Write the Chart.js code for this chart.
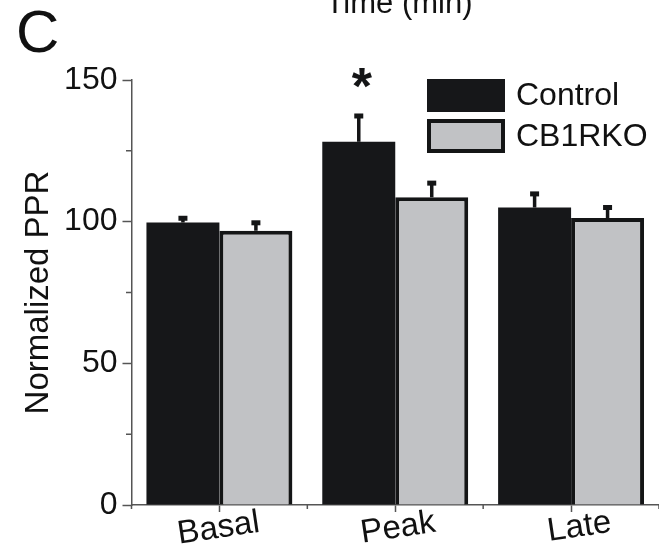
<!DOCTYPE html>
<html>
<head>
<meta charset="utf-8">
<script src="https://cdn.jsdelivr.net/npm/chart.js@4.4.1/dist/chart.umd.min.js"></script>
<style>
  html, body { margin: 0; padding: 0; background: #ffffff; overflow: hidden; }
  #wrap { width: 659px; height: 554px; position: relative; }
</style>
</head>
<body>
<div id="wrap"><canvas id="ppr"></canvas></div>
<script>
// Normalized paired-pulse ratio per phase, mean and SEM
const categories = ['Basal', 'Peak', 'Late'];
const controlMean = [99.7, 128.2, 105.0];
const controlSem = [1.5, 9.1, 4.8];
const cb1rkoMean = [96.8, 108.6, 101.3];
const cb1rkoSem = [2.8, 5.0, 3.7];
const controlStars = ['', '*', ''];
const yMajorTicks = [0, 50, 100, 150];
const yMinorTicks = [25, 75, 125];
const seriesNames = ['Control', 'CB1RKO'];
const panelLabel = 'C';
const upperAxisTitle = 'Time (min)';
const yTitle = 'Normalized PPR';

const FONT = "'Liberation Sans', Arial, Helvetica, sans-serif";
const INK = '#141516';
const AXIS = '#555555';
const CONTROL_FILL = '#161719';
const KO_FILL = '#c1c2c5';

Chart.defaults.font.family = FONT;
Chart.defaults.color = '#111111';

// SEM whiskers (upward only) and significance marks
const errorBars = {
  id: 'errorBars',
  afterDatasetsDraw(chart) {
    const ctx = chart.ctx;
    const y = chart.scales.y;
    ctx.save();
    chart.data.datasets.forEach((ds, i) => {
      chart.getDatasetMeta(i).data.forEach((bar, j) => {
        const top = y.getPixelForValue(ds.data[j] + ds.sem[j]);
        ctx.fillStyle = INK;
        ctx.fillRect(bar.x - 1.75, top, 3.5, bar.y - top);
        ctx.fillRect(bar.x - 4.5, top - 2.5, 9, 5);
        const star = ds.stars ? ds.stars[j] : '';
        if (star) {
          const size = 52;
          ctx.font = 'bold ' + size + 'px ' + FONT;
          ctx.textAlign = 'center';
          ctx.textBaseline = 'alphabetic';
          ctx.fillText(star, bar.x + 3, top - 42 + 0.58 * size);
        }
      });
    });
    ctx.restore();
  }
};

// Minor ticks on both axes, legend, panel letter and the clipped upper title
const decorations = {
  id: 'decorations',
  afterDraw(chart) {
    const ctx = chart.ctx;
    const area = chart.chartArea;
    const x = chart.scales.x;
    const y = chart.scales.y;
    ctx.save();
    ctx.strokeStyle = AXIS;
    ctx.lineWidth = 1.5;
    ctx.beginPath();
    yMinorTicks.forEach(v => {
      const py = y.getPixelForValue(v);
      ctx.moveTo(area.left - 5.5, py);
      ctx.lineTo(area.left, py);
    });
    for (let k = 0; k <= categories.length; k++) {
      const px = x.getPixelForValue(k - 0.5);
      ctx.moveTo(px, area.bottom);
      ctx.lineTo(px, area.bottom + 4);
    }
    ctx.stroke();

    // legend
    const lx = 427, lw = 78, lh = 33;
    const rows = [79, 119];
    chart.data.datasets.forEach((ds, i) => {
      const top = rows[i];
      ctx.fillStyle = ds.backgroundColor;
      ctx.fillRect(lx, top, lw, lh + i);
      if (ds.borderWidth) {
        ctx.strokeStyle = ds.borderColor;
        ctx.lineWidth = 4;
        ctx.strokeRect(lx + 2, top + 2, lw - 4, lh + i - 4);
      }
      ctx.fillStyle = '#111111';
      ctx.font = '32px ' + FONT;
      ctx.textAlign = 'left';
      ctx.textBaseline = 'middle';
      ctx.fillText(ds.label, lx + lw + 11, top + (lh + i) / 2 + 1);
    });

    ctx.fillStyle = '#111111';
    ctx.textBaseline = 'alphabetic';
    ctx.font = '60px ' + FONT;
    ctx.textAlign = 'left';
    ctx.fillText(panelLabel, 16, 52);
    ctx.font = '31px ' + FONT;
    ctx.textAlign = 'center';
    ctx.fillText(upperAxisTitle, 399, 13);
    ctx.restore();
  }
};

new Chart(document.getElementById('ppr'), {
  type: 'bar',
  data: {
    labels: categories,
    datasets: [
      {
        label: seriesNames[0],
        data: controlMean,
        sem: controlSem,
        stars: controlStars,
        backgroundColor: CONTROL_FILL,
        borderWidth: 0,
        categoryPercentage: 0.83,
        barPercentage: 1.0
      },
      {
        label: seriesNames[1],
        data: cb1rkoMean,
        sem: cb1rkoSem,
        backgroundColor: KO_FILL,
        borderColor: INK,
        borderWidth: 4,
        categoryPercentage: 0.83,
        barPercentage: 1.0
      }
    ]
  },
  options: {
    responsive: true,
    maintainAspectRatio: false,
    animation: false,
    devicePixelRatio: 1,
    layout: { padding: { top: 80, left: 0, right: -1.5, bottom: 0 } },
    plugins: { legend: { display: false }, tooltip: { enabled: false } },
    scales: {
      x: {
        offset: true,
        grid: {
          display: true, drawOnChartArea: false, drawTicks: true,
          tickLength: 7, offset: false, tickColor: AXIS, tickWidth: 1.5
        },
        border: { display: true, color: AXIS, width: 1.5 },
        ticks: {
          autoSkip: false, minRotation: 8.5, maxRotation: 8.5,
          labelOffset: 40, padding: -9, color: '#111111', font: { size: 33 }
        },
        afterFit(s) { s.height = 49; s.paddingLeft = 0; s.paddingRight = 0; }
      },
      y: {
        min: 0, max: 150,
        afterBuildTicks(s) {
          s.ticks = [...yMajorTicks, ...yMinorTicks].sort((a, b) => a - b).map(v => ({ value: v }));
        },
        grid: {
          drawOnChartArea: false, drawTicks: true, tickLength: 9, tickWidth: 1.5,
          tickColor: c => (c.tick && yMajorTicks.includes(c.tick.value)) ? AXIS : 'rgba(0,0,0,0)'
        },
        border: { display: true, color: AXIS, width: 1.5 },
        ticks: {
          padding: 5, color: '#111111', font: { size: 32 },
          callback: v => yMajorTicks.includes(v) ? String(v) : ''
        },
        title: {
          display: true, text: yTitle, color: '#111111',
          font: { size: 33 }, padding: { top: 19, bottom: 0 }
        },
        afterFit(s) { s.width = 131.5; s.paddingTop = 0; s.paddingBottom = 0; }
      }
    }
  },
  plugins: [errorBars, decorations]
});
</script>
</body>
</html>
